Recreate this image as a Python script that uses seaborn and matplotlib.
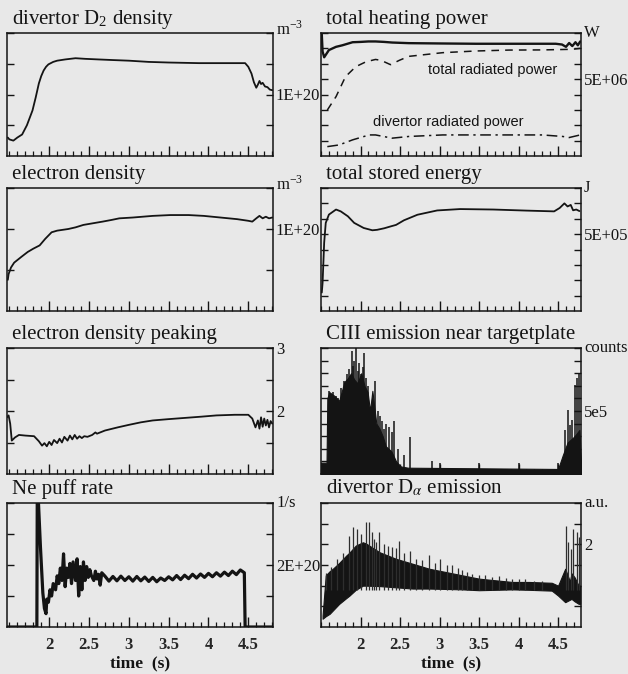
"""
Eight-panel discharge overview (time traces), redrawn with seaborn.
"""

import matplotlib.pyplot as plt
import numpy as np
import seaborn as sns
from matplotlib.ticker import FixedLocator, FuncFormatter, MultipleLocator

sns.set_theme(style="white")
plt.rcParams["font.family"] = ["Liberation Serif", "DejaVu Serif"]
plt.rcParams["mathtext.fontset"] = "stix"

BG = "#e8e8e8"
INK = "#141414"

# ---------------------------------------------------------------------------
# data (time in s)
# ---------------------------------------------------------------------------

time_ticks = [2.0, 2.5, 3.0, 3.5, 4.0, 4.5]

# divertor D2 density, 1e20 m^-3
d2_t = [1.48, 1.50, 1.55, 1.60, 1.66, 1.72, 1.79, 1.83, 1.87, 1.90, 1.93, 1.96,
        1.99, 2.05, 2.10, 2.20, 2.33, 2.45, 2.62, 2.80, 3.00, 3.25, 3.50, 3.88,
        4.20, 4.46, 4.50, 4.54, 4.57, 4.60, 4.62, 4.64, 4.66, 4.68, 4.71, 4.74,
        4.77, 4.80]
d2_v = [0.30, 0.27, 0.25, 0.30, 0.35, 0.50, 0.74, 0.95, 1.18, 1.30, 1.39, 1.45,
        1.49, 1.53, 1.55, 1.57, 1.59, 1.58, 1.57, 1.56, 1.55, 1.53, 1.52, 1.51,
        1.51, 1.51, 1.45, 1.34, 1.20, 1.11, 1.16, 1.22, 1.17, 1.19, 1.13, 1.12,
        1.08, 1.07]

# electron density, 1e20 m^-3
ne_t = [1.48, 1.49, 1.52, 1.56, 1.65, 1.73, 1.80, 1.88, 1.95, 2.03, 2.10, 2.24,
        2.33, 2.43, 2.55, 2.67, 2.78, 2.88, 3.05, 3.30, 3.52, 3.75, 3.94, 4.15,
        4.36, 4.50, 4.55, 4.60, 4.64, 4.68, 4.72, 4.76, 4.80]
ne_v = [0.38, 0.45, 0.53, 0.59, 0.66, 0.72, 0.76, 0.80, 0.88, 0.96, 0.98, 1.00,
        1.02, 1.05, 1.07, 1.09, 1.11, 1.13, 1.14, 1.16, 1.17, 1.17, 1.16, 1.14,
        1.12, 1.10, 1.09, 1.13, 1.16, 1.13, 1.15, 1.13, 1.14]

# electron density peaking
pk_t = [1.47, 1.49, 1.51, 1.53, 1.57, 1.62, 1.70, 1.81, 1.87, 1.91, 1.94, 1.97,
        2.00, 2.03, 2.06, 2.10, 2.13, 2.16, 2.19, 2.23, 2.26, 2.29, 2.32, 2.35,
        2.38, 2.41, 2.44, 2.48, 2.54, 2.58, 2.60, 2.70, 2.86, 3.00, 3.15, 3.30,
        3.49, 3.70, 3.91, 4.10, 4.33, 4.50, 4.55, 4.59, 4.62, 4.64, 4.66, 4.68,
        4.70, 4.72, 4.74, 4.76, 4.78, 4.80]
pk_v = [1.90, 1.93, 1.80, 1.53, 1.58, 1.62, 1.61, 1.60, 1.52, 1.45, 1.49, 1.44,
        1.51, 1.46, 1.54, 1.49, 1.56, 1.50, 1.59, 1.53, 1.61, 1.55, 1.62, 1.56,
        1.60, 1.57, 1.60, 1.59, 1.62, 1.66, 1.64, 1.69, 1.74, 1.78, 1.82, 1.85,
        1.87, 1.89, 1.91, 1.93, 1.94, 1.94, 1.88, 1.74, 1.85, 1.72, 1.90, 1.75,
        1.88, 1.77, 1.86, 1.74, 1.84, 1.80]

# Ne puff rate, 1e20 1/s
ne_puff_t = [1.47, 1.845, 1.85, 1.86, 1.89, 1.92, 1.94, 1.96, 1.97, 1.99, 2.01,
             2.03, 2.05, 2.08, 2.10, 2.12, 2.14, 2.16, 2.18, 2.20, 2.22, 2.24,
             2.26, 2.28, 2.30, 2.33, 2.35, 2.37, 2.39, 2.41, 2.43, 2.45, 2.47,
             2.49, 2.51, 2.53, 2.56, 2.58, 2.60, 2.62, 2.64, 2.66,
             2.70, 2.75, 2.80, 2.85, 2.90, 2.95, 3.00, 3.05, 3.10, 3.15, 3.20,
             3.25, 3.30, 3.35, 3.40, 3.45, 3.50, 3.55, 3.60, 3.65, 3.70, 3.75,
             3.80, 3.85, 3.90, 3.95, 4.00, 4.05, 4.10, 4.15, 4.20, 4.25, 4.30,
             4.35, 4.40, 4.45, 4.46, 4.81]
ne_puff_v = [0.0, 0.0, 4.3, 4.3, 2.58, 1.10, 0.60, 0.43, 0.90, 0.80, 1.20,
             1.00, 1.40, 1.20, 1.65, 1.40, 1.90, 1.50, 2.36, 1.30, 1.90, 1.60,
             2.05, 1.40, 2.10, 1.50, 2.20, 1.00, 1.95, 1.20, 2.10, 1.50, 1.95,
             1.60, 1.85, 1.65, 1.50, 1.80, 1.55, 1.70, 1.35, 1.75,
             1.64, 1.48, 1.63, 1.49, 1.64, 1.50, 1.62, 1.48, 1.63, 1.49, 1.61,
             1.47, 1.60, 1.46, 1.58, 1.50, 1.62, 1.52, 1.66, 1.53, 1.67, 1.56,
             1.70, 1.58, 1.71, 1.60, 1.73, 1.62, 1.75, 1.64, 1.77, 1.66, 1.80,
             1.69, 1.84, 1.75, 0.0, 0.0]

# powers, 1e6 W
heat_t = [1.50, 1.51, 1.52, 1.54, 1.60, 1.69, 1.77, 1.90, 2.00, 2.10, 2.19,
          2.30, 2.40, 2.61, 3.00, 3.46, 4.00, 4.47, 4.55, 4.60, 4.64, 4.68,
          4.72, 4.75, 4.78]
heat_v = [8.0, 7.9, 6.8, 6.42, 6.89, 7.10, 7.20, 7.40, 7.42, 7.45, 7.45,
          7.42, 7.38, 7.34, 7.32, 7.30, 7.30, 7.30, 7.25, 7.10, 7.35, 7.15,
          7.40, 7.20, 7.45]
rad_t = [1.58, 1.69, 1.81, 1.94, 2.07, 2.19, 2.26, 2.38, 2.49, 2.61, 3.04,
         3.46, 3.88, 4.30, 4.68, 4.78]
rad_v = [2.99, 3.86, 5.16, 5.81, 6.13, 6.28, 6.22, 5.94, 6.22, 6.48, 6.72,
         6.83, 6.89, 6.90, 6.94, 7.00]
div_rad_t = [1.58, 1.73, 1.90, 2.11, 2.19, 2.40, 2.61, 3.04, 3.46, 4.30, 4.56,
             4.64, 4.78]
div_rad_v = [0.61, 0.72, 1.05, 1.37, 1.37, 1.16, 1.27, 1.37, 1.37, 1.37, 1.27,
             1.20, 1.37]

# total stored energy, 1e5 J
w_t = [1.51, 1.52, 1.54, 1.56, 1.60, 1.69, 1.75, 1.84, 1.92, 2.04, 2.15, 2.21,
       2.30, 2.38, 2.45, 2.55, 2.72, 2.97, 3.26, 3.68, 4.10, 4.45, 4.52, 4.58,
       4.62, 4.66, 4.69, 4.73, 4.77]
w_v = [1.20, 1.83, 4.43, 5.73, 6.27, 6.60, 6.48, 6.16, 5.73, 5.40, 5.25, 5.28,
       5.38, 5.50, 5.60, 5.90, 6.26, 6.54, 6.63, 6.60, 6.53, 6.48, 6.70, 7.00,
       6.80, 6.90, 6.55, 6.60, 6.50]

# CIII emission, 1e5 counts: dense envelope + single spikes
c3_t = [1.50, 1.57, 1.58, 1.605, 1.67, 1.73, 1.795, 1.84, 1.88, 1.92, 1.96,
        2.01, 2.05, 2.09, 2.12, 2.15, 2.20, 2.24, 2.28, 2.32, 2.39, 2.45, 2.51,
        2.60, 4.50, 4.56, 4.62, 4.71, 4.77, 4.79]
c3_v = [0.9, 0.9, 6.0, 6.5, 6.2, 5.8, 7.3, 7.6, 8.0, 7.5, 7.2,
        8.0, 7.0, 6.5, 5.0, 6.6, 4.0, 3.6, 3.0, 2.2, 1.8, 1.0, 0.6,
        0.5, 0.4, 1.5, 2.5, 3.0, 3.5, 1.0]
c3_spike_t = [1.605, 1.63, 1.648, 1.69, 1.71, 1.75, 1.795, 1.83, 1.86, 1.89,
              1.90, 1.92, 1.94, 1.97, 1.985, 2.01, 2.03, 2.05, 2.07, 2.10,
              2.13, 2.18, 2.22, 2.25, 2.27, 2.30, 2.32, 2.36, 2.40, 2.42, 2.47,
              2.55, 2.63, 2.91, 3.00, 3.50, 4.01, 4.50, 4.59, 4.62, 4.65, 4.67,
              4.71, 4.74, 4.76]
c3_spike_v = [6.55, 5.5, 6.5, 6.2, 6.0, 6.8, 7.35, 7.9, 8.3, 9.75,
              8.6, 9.0, 10.0, 8.2, 8.8, 7.9, 8.5, 9.6, 7.6, 6.95,
              4.6, 7.35, 5.0, 4.6, 4.17, 3.6, 4.0, 3.75, 3.3, 4.17, 2.0,
              1.5, 2.92, 1.0, 0.9, 0.9, 0.9, 0.9, 3.5, 5.1, 3.9, 4.3,
              7.1, 7.6, 7.9]

# divertor D-alpha emission, a.u.: band (lo/hi) + spikes
da_t = [1.52, 1.56, 1.61, 1.65, 1.73, 1.82, 1.86, 1.94, 2.03, 2.07, 2.24, 2.45,
        2.66, 2.87, 3.08, 3.29, 3.50, 3.71, 3.92, 4.13, 4.42, 4.50, 4.59, 4.65,
        4.67, 4.71, 4.76, 4.78]
da_lo = [0.20, 0.26, 0.32, 0.40, 0.56, 0.70, 0.76, 0.90, 1.00, 1.00, 0.99, 0.96,
         0.93, 0.93, 0.92, 0.91, 0.89, 0.90, 0.91, 0.90, 0.88, 0.76, 0.60, 0.66,
         0.68, 0.62, 0.56, 0.56]
da_hi = [0.28, 1.25, 1.35, 1.41, 1.55, 1.73, 1.80, 1.97, 2.05, 2.02, 1.81, 1.65,
         1.53, 1.41, 1.33, 1.25, 1.17, 1.13, 1.09, 1.09, 1.07, 1.00, 1.41, 1.10,
         1.30, 1.20, 1.00, 1.00]
da_spike_t = [1.56, 1.63, 1.70, 1.78, 1.86, 1.90, 1.96, 2.00, 2.07, 2.11, 2.14,
              2.17, 2.20, 2.24, 2.30, 2.35, 2.40, 2.45, 2.49, 2.55, 2.63, 2.70,
              2.78, 2.87, 2.94, 3.01, 3.09, 3.16, 3.23, 3.29, 3.35, 3.41, 3.50,
              3.58, 3.66, 3.75, 3.84, 3.92, 4.00, 4.08, 4.20, 4.30, 4.60, 4.63,
              4.66, 4.69, 4.74, 4.76]
da_spike_v = [1.30, 1.45, 1.65, 1.80, 2.20, 2.41, 2.37, 2.25, 2.53, 2.55, 2.30,
              2.13, 2.05, 2.29, 2.01, 1.95, 1.93, 1.90, 2.09, 1.80, 1.85, 1.65,
              1.61, 1.73, 1.55, 1.65, 1.50, 1.49, 1.42, 1.37, 1.33, 1.29, 1.25,
              1.25, 1.22, 1.24, 1.18, 1.17, 1.15, 1.17, 1.12, 1.12, 2.45, 2.05,
              1.89, 2.37, 2.29, 2.17]

# ---------------------------------------------------------------------------
# layout helpers
# ---------------------------------------------------------------------------

W_PX, H_PX = 628, 674
COLS = {"L": (7, 266), "R": (321, 260)}
ROWS = [(33, 156), (188, 311), (348, 474), (503, 627)]
XLIM = {"L": (1.47, 4.81), "R": (1.50, 4.79)}


def make_axes(fig, col, row):
    x0, w = COLS[col]
    top, bot = ROWS[row]
    return fig.add_axes([x0 / W_PX, 1 - bot / H_PX, w / W_PX, (bot - top) / H_PX])


def frame(ax, col, ylim, step, labelled, unit, title, bottom=False):
    ax.set_facecolor(BG)
    ax.set_xlim(*XLIM[col])
    ax.set_ylim(*ylim)
    for s in ax.spines.values():
        s.set_visible(True)
        s.set_color(INK)
        s.set_linewidth(1.1)

    ax.xaxis.set_major_locator(FixedLocator(time_ticks))
    ax.xaxis.set_minor_locator(MultipleLocator(0.1))
    ax.tick_params(axis="x", which="major", direction="in", length=7, width=1.0,
                   bottom=True, top=False, labelbottom=bottom, color=INK,
                   labelsize=12, pad=7)
    ax.tick_params(axis="x", which="minor", direction="in", length=3.5, width=0.9,
                   bottom=True, top=False, color=INK)
    if bottom:
        ax.xaxis.set_major_formatter(FuncFormatter(lambda v, p: f"{v:g}"))
        for lab in ax.get_xticklabels():
            lab.set_fontweight("bold")
        ax.set_xlabel("time  (s)", fontsize=12.5, fontweight="bold", labelpad=2,
                      color=INK)

    ax.set_yticks(np.arange(ylim[0] + step, ylim[1] + step / 2, step))
    ax.yaxis.set_major_formatter(
        FuncFormatter(lambda v, p: labelled.get(round(v, 3), "")))
    ax.tick_params(axis="y", direction="in", length=5, width=1.0, left=True,
                   right=True, labelleft=False, labelright=True, color=INK,
                   labelsize=12, pad=2, labelcolor=INK)

    ax.text(0.02, 1.075, title, transform=ax.transAxes, ha="left",
            va="baseline", fontsize=15, color=INK)
    if unit:
        ax.text(1.012, 1.0, unit, transform=ax.transAxes, ha="left",
                va="center", fontsize=12, color=INK)


def trace(ax, t, v, lw=1.3, ls="-"):
    sns.lineplot(x=t, y=v, ax=ax, color=INK, linewidth=lw, linestyle=ls,
                 estimator=None, sort=False, legend=False)


fig = plt.figure(figsize=(W_PX / 100, H_PX / 100), dpi=100, facecolor=BG)

# divertor D2 density
ax = make_axes(fig, "L", 0)
trace(ax, d2_t, d2_v)
frame(ax, "L", (0, 2), 0.5, {1.0: "1E+20"}, "",
      r"divertor D$_\mathregular{2}$ density")
ax.text(1.012, 0.99, r"m$^{\mathregular{-3}}$", transform=ax.transAxes,
        ha="left", va="baseline", fontsize=12, color=INK)

# total heating power
ax = make_axes(fig, "R", 0)
trace(ax, heat_t, heat_v, lw=1.7)
trace(ax, rad_t, rad_v, lw=1.1, ls=(0, (5, 4)))
trace(ax, div_rad_t, div_rad_v, lw=1.1, ls=(0, (7, 3, 1.5, 3)))
frame(ax, "R", (0, 8), 1, {5.0: "5E+06"}, "W", "total heating power")
ax.text(0.66, 0.70, "total radiated power", transform=ax.transAxes,
        ha="center", va="center", fontsize=10.5, family="Liberation Sans",
        color=INK)
ax.text(0.49, 0.28, "divertor radiated power", transform=ax.transAxes,
        ha="center", va="center", fontsize=10.5, family="Liberation Sans",
        color=INK)

# electron density
ax = make_axes(fig, "L", 1)
trace(ax, ne_t, ne_v)
frame(ax, "L", (0, 1.5), 0.5, {1.0: "1E+20"}, "", "electron density")
ax.text(1.012, 0.99, r"m$^{\mathregular{-3}}$", transform=ax.transAxes,
        ha="left", va="baseline", fontsize=12, color=INK)

# total stored energy
ax = make_axes(fig, "R", 1)
trace(ax, w_t, w_v)
frame(ax, "R", (0, 8), 1, {5.0: "5E+05"}, "J", "total stored energy")

# electron density peaking
ax = make_axes(fig, "L", 2)
trace(ax, pk_t, pk_v)
frame(ax, "L", (1, 3), 0.5, {2.0: "2", 3.0: "3"}, "",
      "electron density peaking")

# CIII emission
ax = make_axes(fig, "R", 2)
ax.fill_between(c3_t, 0, c3_v, color=INK, linewidth=0.8, edgecolor=INK)
ax.vlines(c3_spike_t, 0, c3_spike_v, color=INK, linewidth=1.1)
frame(ax, "R", (0, 10), 1, {5.0: "5e5"}, "counts",
      "CIII emission near targetplate")

# Ne puff rate
ax = make_axes(fig, "L", 3)
trace(ax, ne_puff_t, ne_puff_v, lw=2.3)
frame(ax, "L", (0, 4), 1, {2.0: "2E+20"}, "1/s", "Ne puff rate", bottom=True)

# divertor D-alpha emission
ax = make_axes(fig, "R", 3)
ax.fill_between(da_t, da_lo, da_hi, color=INK, linewidth=0.8, edgecolor=INK)
ax.vlines(da_spike_t, 0.9, da_spike_v, color="#2e2e2e", linewidth=0.9)
frame(ax, "R", (0, 3), 0.5, {2.0: "2"}, "a.u.",
      r"divertor D$_\alpha$ emission", bottom=True)

fig.savefig("out.png", dpi=100, facecolor=BG)
